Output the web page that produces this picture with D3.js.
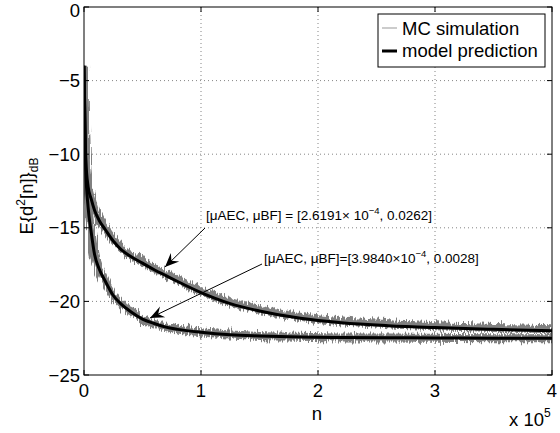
<!DOCTYPE html>
<html>
<head>
<meta charset="utf-8">
<script src="https://cdn.jsdelivr.net/npm/d3@7"></script>
<style>
  body { margin: 0; background: #fff; }
  svg { display: block; font-family: "Liberation Sans", Arial, Helvetica, sans-serif; }
</style>
</head>
<body>
<svg id="chart" width="560" height="433"></svg>
<script>
// sample positions (n) for the curves
const nModel = [0, 1500, 3500, 6000, 9000, 13000, 18000, 25000, 32000, 40000, 50000, 60000,
  70000, 80000, 100000, 125000, 150000, 185000, 220000, 260000, 300000, 350000, 400000];
// model prediction, upper curve (muAEC 2.6191e-4)
const modelUpper = [-4, -10.3, -12.2, -13.0, -13.8, -14.5, -15.1, -15.9, -16.5, -16.95, -17.4, -17.85,
  -18.25, -18.65, -19.4, -20.15, -20.65, -21.15, -21.45, -21.65, -21.78, -21.9, -22.0];
// model prediction, lower curve (muAEC 3.9840e-4)
const modelLower = [-4, -11.0, -13.6, -15.2, -16.8, -17.8, -18.6, -19.6, -20.2, -20.7, -21.2, -21.5,
  -21.75, -21.9, -22.1, -22.27, -22.35, -22.42, -22.45, -22.47, -22.48, -22.5, -22.5];
// MC simulation (centre of the noisy trace)
const mcUpper = [-4, -10.2, -12.1, -12.9, -13.7, -14.4, -15.0, -15.8, -16.4, -16.85, -17.3, -17.75,
  -18.15, -18.55, -19.3, -20.05, -20.55, -21.05, -21.35, -21.55, -21.68, -21.8, -21.9];
const mcLower = [-4, -11.0, -13.6, -15.2, -16.8, -17.8, -18.6, -19.6, -20.2, -20.7, -21.2, -21.5,
  -21.75, -21.9, -22.1, -22.25, -22.35, -22.4, -22.45, -22.45, -22.47, -22.5, -22.5];

const xTicks = [0, 100000, 200000, 300000, 400000];
const xTickLabels = ["0", "1", "2", "3", "4"];
const yTicks = [-25, -20, -15, -10, -5, 0];
const yTickLabels = ["\u221225", "\u221220", "\u221215", "\u221210", "\u22125", "0"];
const legendLabels = ["MC simulation", "model prediction"];

const mLeft = 84, mRight = 552, mTop = 7, mBottom = 375;
const svg = d3.select("#chart");

const x = d3.scaleLinear().domain([0, 400000]).range([mLeft, mRight]);
const y = d3.scaleLinear().domain([-25, 0]).range([mBottom, mTop]);

const defs = svg.append("defs");
defs.append("clipPath").attr("id", "plot").append("rect")
  .attr("x", mLeft).attr("y", mTop).attr("width", mRight - mLeft).attr("height", mBottom - mTop);
// jagged texture for the simulated traces
const fz = defs.append("filter").attr("id", "fuzz")
  .attr("x", "-2%").attr("y", "-10%").attr("width", "104%").attr("height", "120%");
fz.append("feTurbulence").attr("type", "fractalNoise").attr("baseFrequency", "0.7 0.03")
  .attr("numOctaves", 2).attr("seed", 4).attr("result", "t");
fz.append("feDisplacementMap").attr("in", "SourceGraphic").attr("in2", "t")
  .attr("scale", 11).attr("xChannelSelector", "B").attr("yChannelSelector", "G");

// grid
const grid = svg.append("g").attr("stroke", "#666").attr("stroke-width", 0.8)
  .attr("stroke-dasharray", "1,3");
grid.selectAll(".gx").data(xTicks.slice(1, -1)).join("line")
  .attr("x1", d => x(d)).attr("x2", d => x(d)).attr("y1", mTop).attr("y2", mBottom);
grid.selectAll(".gy").data(yTicks.slice(1, -1)).join("line")
  .attr("y1", d => y(d)).attr("y2", d => y(d)).attr("x1", mLeft).attr("x2", mRight);

const toPts = (vals) => nModel.map((n, i) => [n, vals[i]]);
const line = d3.line().x(d => x(d[0])).y(d => y(d[1])).curve(d3.curveMonotoneX);

const plot = svg.append("g").attr("clip-path", "url(#plot)");
// MC simulation traces (gray noisy band)
[mcUpper, mcLower].forEach(v => {
  plot.append("path").attr("d", line(toPts(v)))
    .attr("fill", "none").attr("stroke", "#808080").attr("stroke-width", 8)
    .attr("stroke-linejoin", "round").attr("filter", "url(#fuzz)");
});
// model prediction
[modelUpper, modelLower].forEach(v => {
  plot.append("path").attr("d", line(toPts(v)))
    .attr("fill", "none").attr("stroke", "#000").attr("stroke-width", 3)
    .attr("stroke-linejoin", "round");
});

// axes box + ticks
svg.append("rect").attr("x", mLeft).attr("y", mTop).attr("width", mRight - mLeft).attr("height", mBottom - mTop)
  .attr("fill", "none").attr("stroke", "#000").attr("stroke-width", 1);
const tl = 5;
const ticks = svg.append("g").attr("stroke", "#000").attr("stroke-width", 1);
xTicks.forEach(t => {
  ticks.append("line").attr("x1", x(t)).attr("x2", x(t)).attr("y1", mBottom).attr("y2", mBottom - tl);
  ticks.append("line").attr("x1", x(t)).attr("x2", x(t)).attr("y1", mTop).attr("y2", mTop + tl);
});
yTicks.forEach(t => {
  ticks.append("line").attr("y1", y(t)).attr("y2", y(t)).attr("x1", mLeft).attr("x2", mLeft + tl);
  ticks.append("line").attr("y1", y(t)).attr("y2", y(t)).attr("x1", mRight).attr("x2", mRight - tl);
});

const fs = 18.5;
svg.selectAll(".xl").data(xTicks).join("text")
  .attr("x", d => x(d)).attr("y", 397).attr("text-anchor", "middle")
  .attr("font-size", fs).text((d, i) => xTickLabels[i]);
svg.selectAll(".yl").data(yTicks).join("text")
  .attr("x", 80).attr("y", d => Math.max(y(d) + 6.5, 17)).attr("text-anchor", "end")
  .attr("font-size", fs).text((d, i) => yTickLabels[i]);

// axis labels
svg.append("text").attr("x", 317).attr("y", 420).attr("text-anchor", "middle")
  .attr("font-size", fs).text("n");
const xe = svg.append("text").attr("x", 509).attr("y", 426).attr("font-size", fs);
xe.append("tspan").text("x 10");
xe.append("tspan").attr("font-size", 12).attr("dy", -9).text("5");

const yl = svg.append("text").attr("transform", "translate(33,196) rotate(-90)")
  .attr("text-anchor", "middle").attr("font-size", fs);
yl.append("tspan").text("E{d");
yl.append("tspan").attr("font-size", 12).attr("dy", -8).text("2");
yl.append("tspan").attr("dy", 8).text("[n]}");
yl.append("tspan").attr("font-size", 12).attr("dy", 5).text("dB");

// annotations
const afs = 13.5;
const a1 = svg.append("text").attr("x", 206).attr("y", 220).attr("font-size", afs);
a1.append("tspan").text("[\u03bcAEC, \u03bcBF] = [2.6191\u00d7 10");
a1.append("tspan").attr("font-size", 9.5).attr("dy", -6).text("\u22124");
a1.append("tspan").attr("dy", 6).text(", 0.0262]");
const a2 = svg.append("text").attr("x", 264).attr("y", 262.5).attr("font-size", afs);
a2.append("tspan").text("[\u03bcAEC, \u03bcBF]=[3.9840\u00d710");
a2.append("tspan").attr("font-size", 9.5).attr("dy", -6).text("\u22124");
a2.append("tspan").attr("dy", 6).text(", 0.0028]");

function arrow(x1, y1, x2, y2) {
  svg.append("line").attr("x1", x1).attr("y1", y1).attr("x2", x2).attr("y2", y2)
    .attr("stroke", "#000").attr("stroke-width", 1);
  const a = Math.atan2(y2 - y1, x2 - x1);
  const L = 14, W = 6, N = 9;
  const p = (d, w) => [x2 - d * Math.cos(a) - w * Math.sin(a), y2 - d * Math.sin(a) + w * Math.cos(a)];
  svg.append("path").attr("d", d3.line()([[x2, y2], p(L, W), p(N, 0), p(L, -W)]) + "Z")
    .attr("fill", "#000");
}
arrow(205, 228, 165, 267);
arrow(262, 264, 150, 318);

// legend
const lg = svg.append("g");
lg.append("rect").attr("x", 378).attr("y", 14).attr("width", 167).attr("height", 53)
  .attr("fill", "#fff").attr("stroke", "#000").attr("stroke-width", 1);
lg.append("line").attr("x1", 382).attr("x2", 397).attr("y1", 28).attr("y2", 28)
  .attr("stroke", "#999").attr("stroke-width", 1);
lg.append("line").attr("x1", 382).attr("x2", 397).attr("y1", 51).attr("y2", 51)
  .attr("stroke", "#000").attr("stroke-width", 3);
lg.selectAll("text").data(legendLabels).join("text")
  .attr("x", 402).attr("y", (d, i) => 34.5 + i * 22.5).attr("font-size", fs).text(d => d);
</script>
</body>
</html>
